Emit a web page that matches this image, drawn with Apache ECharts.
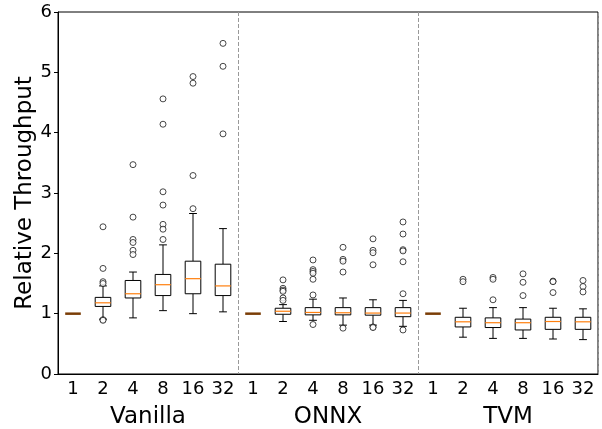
<!DOCTYPE html>
<html lang="en">
<head>
<meta charset="UTF-8">
<title>Relative Throughput</title>
<script src="https://cdn.jsdelivr.net/npm/echarts@6/dist/echarts.min.js"></script>
<style>
  html, body { margin: 0; padding: 0; background: #fff; }
  #main { width: 602px; height: 429px; }
</style>
</head>
<body>
<div id="main"></div>
<script>
// categories (batch sizes) per group
var batches = ['1', '2', '4', '8', '16', '32', '1', '2', '4', '8', '16', '32', '1', '2', '4', '8', '16', '32'];
var groups = ['Vanilla', 'ONNX', 'TVM'];

// box statistics, one entry per category
var whiskLow  = [1, 0.91, 0.93, 1.05, 1.00, 1.03,  1, 0.87, 0.89, 0.81, 0.81, 0.79,  1, 0.61, 0.59, 0.59, 0.58, 0.57];
var q1        = [1, 1.12, 1.26, 1.30, 1.33, 1.30,  1, 0.99, 0.98, 0.98, 0.975, 0.95, 1, 0.78, 0.77, 0.73, 0.74, 0.74];
var median    = [1, 1.18, 1.33, 1.48, 1.58, 1.46,  1, 1.04, 1.02, 1.015, 1.01, 1.01, 1, 0.865, 0.85, 0.85, 0.87, 0.865];
var q3        = [1, 1.27, 1.55, 1.65, 1.87, 1.82,  1, 1.09, 1.10, 1.10, 1.10, 1.10,  1, 0.94, 0.93, 0.91, 0.94, 0.94];
var whiskHigh = [1, 1.46, 1.69, 2.14, 2.66, 2.41,  1, 1.15, 1.24, 1.26, 1.23, 1.22,  1, 1.09, 1.10, 1.10, 1.09, 1.08];

// fliers per category
var fliers = [
  [],
  [2.44, 1.75, 1.53, 1.50, 0.90, 0.89],
  [3.47, 2.60, 2.23, 2.18, 2.05, 1.98],
  [4.56, 4.14, 3.02, 2.80, 2.48, 2.40, 2.23],
  [4.93, 4.82, 3.29, 2.74],
  [5.48, 5.10, 3.98],
  [],
  [1.56, 1.42, 1.39, 1.37, 1.26, 1.22],
  [1.89, 1.73, 1.70, 1.67, 1.57, 1.31, 0.82],
  [2.10, 1.90, 1.87, 1.69, 0.76],
  [2.24, 2.05, 2.01, 1.81, 0.78, 0.77],
  [2.52, 2.32, 2.06, 2.04, 1.86, 1.33, 0.73],
  [],
  [1.57, 1.53],
  [1.60, 1.57, 1.23],
  [1.66, 1.52, 1.30],
  [1.54, 1.53, 1.35],
  [1.55, 1.45, 1.36]
];

var font = 'DejaVu Sans';

var boxData = batches.map(function (b, i) {
  return [i, whiskLow[i], q1[i], median[i], q3[i], whiskHigh[i]];
});
var flierData = [];
fliers.forEach(function (list, i) {
  list.forEach(function (v) { flierData.push([i, v]); });
});

function renderBox(params, api) {
  var i = api.value(0);
  var lo = api.coord([i, api.value(1)]);
  var b1 = api.coord([i, api.value(2)]);
  var md = api.coord([i, api.value(3)]);
  var b3 = api.coord([i, api.value(4)]);
  var hi = api.coord([i, api.value(5)]);
  var w = api.size([1, 0])[0] * 0.52;
  var cx = lo[0];
  var line = { stroke: '#000', lineWidth: 1 };
  if (api.value(2) === api.value(4)) {
    // flat box: every run equals the baseline
    return {
      type: 'line',
      shape: { x1: cx - w / 2, y1: md[1], x2: cx + w / 2, y2: md[1] },
      style: { stroke: '#7a3d06', lineWidth: 2.5 }
    };
  }
  return {
    type: 'group',
    children: [
      { type: 'line', shape: { x1: cx, y1: b3[1], x2: cx, y2: hi[1] }, style: line },
      { type: 'line', shape: { x1: cx, y1: b1[1], x2: cx, y2: lo[1] }, style: line },
      { type: 'line', shape: { x1: cx - w / 4, y1: hi[1], x2: cx + w / 4, y2: hi[1] }, style: line },
      { type: 'line', shape: { x1: cx - w / 4, y1: lo[1], x2: cx + w / 4, y2: lo[1] }, style: line },
      { type: 'rect', shape: { x: cx - w / 2, y: b3[1], width: w, height: b1[1] - b3[1] },
        style: { fill: '#fff', stroke: '#000', lineWidth: 1 } },
      { type: 'line', shape: { x1: cx - w / 2, y1: md[1], x2: cx + w / 2, y2: md[1] },
        style: { stroke: '#ff7f0e', lineWidth: 1.2 } }
    ]
  };
}

var myChart = echarts.init(document.getElementById('main'));
var option = {
  animation: false,
  grid: { left: 58, right: 4, top: 12, bottom: 54, show: true, borderColor: '#000', borderWidth: 1, backgroundColor: '#fff' },
  xAxis: [
    {
      type: 'category',
      data: batches,
      boundaryGap: true,
      axisLine: { lineStyle: { color: '#000', width: 1 } },
      axisTick: { alignWithLabel: true, length: 4, lineStyle: { color: '#000' } },
      axisLabel: { color: '#000', fontSize: 18, fontFamily: font, margin: 6, interval: 0 },
      splitLine: { show: false }
    },
    {
      type: 'category',
      data: groups,
      position: 'bottom',
      offset: 27,
      boundaryGap: true,
      axisLine: { show: false },
      axisTick: { show: false },
      axisLabel: { color: '#000', fontSize: 23, fontFamily: font, margin: 5 },
      splitLine: {
        show: true,
        interval: function (index) { return index === 1 || index === 2; },
        lineStyle: { color: '#999', width: 1, type: [4, 2] }
      }
    }
  ],
  yAxis: {
    type: 'value',
    min: 0,
    max: 6,
    interval: 1,
    name: 'Relative Throughput',
    nameLocation: 'middle',
    nameGap: 21,
    nameMoveOverlap: false,
    nameTextStyle: { color: '#000', fontSize: 23, fontFamily: font },
    axisLine: { show: true, lineStyle: { color: '#000', width: 1 } },
    axisTick: { show: true, length: 4, lineStyle: { color: '#000' } },
    axisLabel: { color: '#000', fontSize: 18, fontFamily: font, margin: 6 },
    splitLine: { show: false }
  },
  series: [
    {
      type: 'custom',
      xAxisIndex: 0,
      renderItem: renderBox,
      encode: { x: 0, y: [1, 2, 3, 4, 5] },
      data: boxData,
      z: 3
    },
    {
      type: 'scatter',
      xAxisIndex: 0,
      symbol: 'circle',
      symbolSize: 6,
      itemStyle: { color: '#fff', borderColor: '#000', borderWidth: 0.9 },
      data: flierData,
      z: 4
    }
  ]
};
myChart.setOption(option);
</script>
</body>
</html>
